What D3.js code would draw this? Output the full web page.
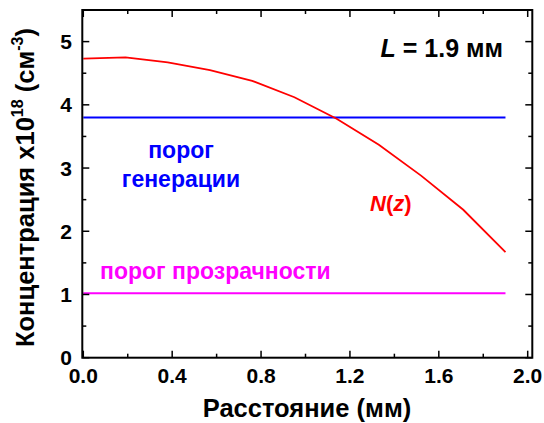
<!DOCTYPE html>
<html><head><meta charset="utf-8">
<script src="https://cdn.jsdelivr.net/npm/d3@7"></script>
<style>body{margin:0;background:#fff}svg{display:block}text{font-family:"Liberation Sans",Arial,sans-serif;font-weight:bold}</style>
</head><body><svg id="c" width="544" height="423"></svg>
<script>
const zValues = [0, 0.19, 0.38, 0.57, 0.76, 0.95, 1.14, 1.33, 1.52, 1.71, 1.90];
const nValues = [4.73, 4.75, 4.67, 4.55, 4.38, 4.12, 3.78, 3.37, 2.88, 2.34, 1.67];
const thresholdGen = 3.80;
const thresholdTransp = 1.02;
const xTicks = [0, 0.4, 0.8, 1.2, 1.6, 2.0];
const xMinor = [0.2, 0.6, 1.0, 1.4, 1.8];
const yTicks = [0, 1, 2, 3, 4, 5];
const yMinor = [0.5, 1.5, 2.5, 3.5, 4.5];

const svg = d3.select("#c");
const x = d3.scaleLinear().domain([0, 2]).range([83.3, 527.7]);
const y = d3.scaleLinear().domain([0, 5.5]).range([357.7, 10]);
const x0 = 82.3, x1 = 532.3, y0 = 357.7, y1 = 10;

// data lines
const line = d3.line().x(d => x(d[0])).y(d => y(d[1]));
svg.append("path").datum([[0, thresholdGen], [1.9, thresholdGen]]).attr("d", line)
  .attr("stroke", "#0000ff").attr("stroke-width", 2).attr("fill", "none");
svg.append("path").datum([[0, thresholdTransp], [1.9, thresholdTransp]]).attr("d", line)
  .attr("stroke", "#ff00ff").attr("stroke-width", 2).attr("fill", "none");
svg.append("path").datum(zValues.map((z, i) => [z, nValues[i]])).attr("d", line)
  .attr("stroke", "#ff0000").attr("stroke-width", 1.8).attr("fill", "none");

// frame
svg.append("rect").attr("x", x0).attr("y", y1).attr("width", x1 - x0).attr("height", y0 - y1)
  .attr("fill", "none").attr("stroke", "#000").attr("stroke-width", 2);

// ticks
const g = svg.append("g").attr("stroke", "#000").attr("stroke-width", 1.5);
function xt(vals, len) {
  vals.forEach(v => {
    g.append("line").attr("x1", x(v)).attr("x2", x(v)).attr("y1", y0).attr("y2", y0 - len);
    g.append("line").attr("x1", x(v)).attr("x2", x(v)).attr("y1", y1).attr("y2", y1 + len);
  });
}
function yt(vals, len) {
  vals.forEach(v => {
    g.append("line").attr("y1", y(v)).attr("y2", y(v)).attr("x1", x0).attr("x2", x0 + len);
    g.append("line").attr("y1", y(v)).attr("y2", y(v)).attr("x1", x1).attr("x2", x1 - len);
  });
}
xt(xTicks, 7); xt(xMinor, 4); yt(yTicks, 7); yt(yMinor, 4);

// tick labels
svg.append("g").selectAll("text").data(xTicks).join("text")
  .attr("x", d => x(d)).attr("y", 383).attr("text-anchor", "middle")
  .attr("font-size", 21).text(d => d.toFixed(1));
svg.append("g").selectAll("text").data(yTicks).join("text")
  .attr("x", 72).attr("y", d => y(d) + 7.5).attr("text-anchor", "end")
  .attr("font-size", 21).text(d => d);

// axis titles
svg.append("text").attr("x", 307).attr("y", 417).attr("text-anchor", "middle")
  .attr("font-size", 25.5).text("Расстояние (мм)");
const yt2 = svg.append("text").attr("transform", `translate(34,187.5) rotate(-90)`)
  .attr("text-anchor", "middle").attr("font-size", 25.5);
yt2.append("tspan").text("Концентрация x10");
yt2.append("tspan").attr("dy", -11).attr("font-size", 16).text("18");
yt2.append("tspan").attr("dy", 11).text(" (см");
yt2.append("tspan").attr("dy", -11).attr("font-size", 16).text("-3");
yt2.append("tspan").attr("dy", 11).text(")");

// annotations
const lt = svg.append("text").attr("x", 503).attr("y", 57).attr("text-anchor", "end").attr("font-size", 25);
lt.append("tspan").attr("font-style", "italic").text("L");
lt.append("tspan").text(" = 1.9 мм");

svg.append("text").attr("x", 181).attr("y", 158).attr("text-anchor", "middle").attr("font-size", 23)
  .attr("fill", "#0000ff").text("порог");
svg.append("text").attr("x", 181).attr("y", 187).attr("text-anchor", "middle").attr("font-size", 23)
  .attr("fill", "#0000ff").text("генерации");
svg.append("text").attr("x", 100).attr("y", 279).attr("font-size", 23)
  .attr("fill", "#ff00ff").text("порог прозрачности");
const nz = svg.append("text").attr("x", 370).attr("y", 211).attr("font-size", 22)
  .attr("fill", "#ff0000");
nz.append("tspan").attr("font-style", "italic").text("N");
nz.append("tspan").text("(");
nz.append("tspan").attr("font-style", "italic").text("z");
nz.append("tspan").text(")");
</script></body></html>
